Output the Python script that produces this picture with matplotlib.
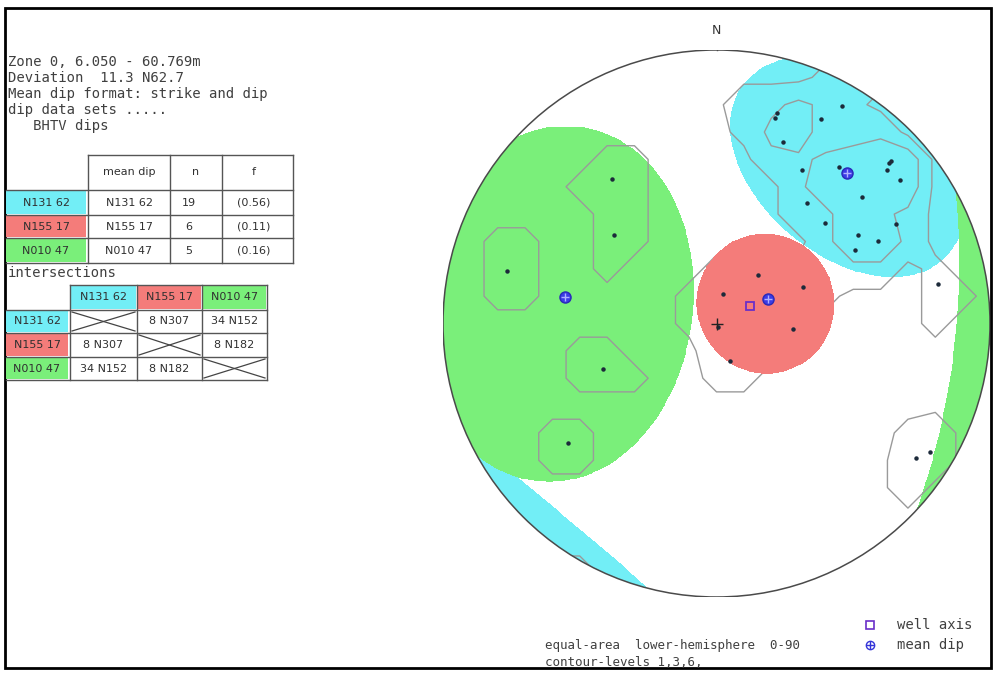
import numpy as np
from matplotlib import pyplot as plt
from matplotlib.patches import Circle, Rectangle

# === 0. DATA ===

header_lines = ["Zone 0, 6.050 - 60.769m",
                "Deviation  11.3 N62.7",
                "Mean dip format: strike and dip",
                "dip data sets .....",
                "   BHTV dips"]

set_names = ["N131 62", "N155 17", "N010 47"]
set_colors = ["#72eef6", "#f47c7a", "#7aef7a"]
set_n = [19, 6, 5]
set_f = [0.56, 0.11, 0.16]

# intersections (plunge, trend) between the mean planes
inter_plunge = [[None, 8, 34], [8, None, 8], [34, 8, None]]
inter_trend = [[None, 307, 152], [307, None, 182], [152, 182, None]]

# individual dips (strike, dip - right hand rule)
cyan_strike = [120, 106, 106, 117, 110, 119, 128, 137, 137, 138, 142, 139, 127, 137, 148, 153, 151, 152, 131]
cyan_dip = [81, 69, 67, 73, 60, 54, 62, 76, 75, 73, 74, 60, 46, 45, 51, 56, 64, 48, 61]
red_strike = [131, 102, 157, 184, 250, 252]
red_dip = [19, 9, 28, 23, 12, 1]
green_strike = [54, 41, 14, 338, 321]
green_dip = [55, 41, 68, 37, 59]
other_strike = [170, 214, 211]
other_dip = [71, 77, 80]

# mean dips of the three sets
mean_strike = [131, 155, 10]
mean_dip = [62, 17, 47]

# well axis (deviation, azimuth)
well_dev = 11.3
well_azi = 62.7

# shaded set zones: cone axis (trend, plunge) and half angle
zone_trend = [40, 68, 277]
zone_plunge = [22, 74, 34.5]
zone_angle = [33, 20.5, 48]

contour_levels = [1, 3, 6]
count_angle = 10.0


# === 1. HELPERS ===

def pole_xy(strike, dip):
    """equal-area lower hemisphere position of the pole to a plane"""
    strike = np.asarray(strike, float)
    dip = np.asarray(dip, float)
    trend = np.radians(strike - 90.0)
    r = np.sqrt(2) * np.sin(np.radians(dip) / 2)
    return r * np.sin(trend), r * np.cos(trend)


def xy_to_vec(x, y):
    r = np.clip(np.hypot(x, y), 0, 1)
    theta = 2 * np.arcsin(r / np.sqrt(2))
    az = np.arctan2(x, y)
    return np.stack([np.sin(theta) * np.sin(az), np.sin(theta) * np.cos(az), np.cos(theta)], axis=-1)


def line_vec(trend, plunge):
    t, p = np.radians(trend), np.radians(plunge)
    return np.array([np.cos(p) * np.sin(t), np.cos(p) * np.cos(t), np.sin(p)])


# === 2. FIGURE ===

fig = plt.figure(figsize=(9.97, 6.75), dpi=100)
page = fig.add_axes([0, 0, 1, 1])
page.set_xlim(0, 997)
page.set_ylim(675, 0)
page.axis('off')

page.add_patch(Rectangle((5, 8), 986, 660, fill=False, ec='black', lw=2))

txt = dict(family='DejaVu Sans Mono', fontsize=10, color='#404040', va='center')
for i, line in enumerate(header_lines):
    page.text(8, 62 + i * 16, line, ha='left', **txt)

# --- table of mean dips ---
cell = dict(family='DejaVu Sans', fontsize=8, color='#303030', va='center', ha='center')
col_x = [88, 170, 222, 293]
row_y = [155, 190, 215, 238, 263]
page.text(129, 172, "mean dip", **cell)
page.text(196, 172, "n", **cell)
page.text(254, 172, "f", **cell)
for i in range(3):
    y0, y1 = row_y[i + 1], row_y[i + 2]
    page.add_patch(Rectangle((6, y0 + 1), 80, y1 - y0 - 2, fc=set_colors[i], ec='none'))
    yc = (y0 + y1) / 2
    page.text(46, yc, set_names[i], **cell)
    page.text(129, yc, set_names[i], **cell)
    page.text(189, yc, str(set_n[i]), **cell)
    page.text(254, yc, "(%.2f)" % set_f[i], **cell)
for x in col_x:
    page.plot([x, x], [row_y[0], row_y[-1]], color='#555555', lw=1)
page.plot([col_x[0], col_x[-1]], [row_y[0], row_y[0]], color='#555555', lw=1)
for y in row_y[1:]:
    page.plot([6, col_x[-1]], [y, y], color='#555555', lw=1)

# --- intersections table ---
page.text(8, 273, "intersections", ha='left', **txt)
icol = [70, 137, 202, 267]
irow = [285, 310, 333, 357, 380]
for j in range(3):
    page.add_patch(Rectangle((icol[j] + 1, irow[0] + 1), icol[j + 1] - icol[j] - 2, irow[1] - irow[0] - 2,
                             fc=set_colors[j], ec='none'))
    page.text((icol[j] + icol[j + 1]) / 2, (irow[0] + irow[1]) / 2, set_names[j], **cell)
for i in range(3):
    y0, y1 = irow[i + 1], irow[i + 2]
    page.add_patch(Rectangle((6, y0 + 1), 62, y1 - y0 - 2, fc=set_colors[i], ec='none'))
    page.text(37, (y0 + y1) / 2, set_names[i], **cell)
    for j in range(3):
        x0, x1 = icol[j], icol[j + 1]
        if inter_plunge[i][j] is None:
            page.plot([x0 + 2, x1 - 2], [y0 + 2, y1 - 2], color='#444444', lw=0.9)
            page.plot([x0 + 2, x1 - 2], [y1 - 2, y0 + 2], color='#444444', lw=0.9)
        else:
            page.text((x0 + x1) / 2, (y0 + y1) / 2,
                      "%d N%03d" % (inter_plunge[i][j], inter_trend[i][j]), **cell)
for x in icol:
    page.plot([x, x], [irow[0], irow[-1]], color='#555555', lw=1)
page.plot([icol[0], icol[-1]], [irow[0], irow[0]], color='#555555', lw=1)
for y in irow[1:]:
    page.plot([6, icol[-1]], [y, y], color='#555555', lw=1)

# --- bottom captions and legend ---
small = dict(txt, fontsize=9)
page.text(545, 645, "equal-area  lower-hemisphere  0-90", ha='left', **small)
page.text(545, 662, "contour-levels 1,3,6,", ha='left', **small)
page.plot(870, 625, 's', ms=6, mfc='none', mec='#6a2fc8', mew=1.2)
page.text(897, 625, "well axis", ha='left', **txt)
page.plot(870, 645, 'o', ms=6, mfc='none', mec='#3434d8', mew=1)
page.plot(870, 645, '+', ms=6, color='#3434d8', mew=1)
page.text(897, 645, "mean dip", ha='left', **txt)

# === 3. STEREONET ===

net = fig.add_axes([443 / 997, (675 - 597) / 675, 547 / 997, 547 / 675])
net.set_xlim(-1, 1)
net.set_ylim(-1, 1)
net.axis('off')
rim = Circle((0, 0), 1, transform=net.transData)

gx = np.linspace(-1, 1, 601)
GX, GY = np.meshgrid(gx, gx)
inside = GX ** 2 + GY ** 2 <= 1
V = xy_to_vec(GX, GY)


def zone_fill(k, z):
    # axial data: a point belongs to the zone if it or its antipode lies in the cone
    c = line_vec(zone_trend[k], zone_plunge[k])
    m = (np.abs(V @ c) >= np.cos(np.radians(zone_angle[k]))) & inside
    cs = net.contourf(GX, GY, m.astype(float), levels=[0.5, 1.5], colors=[set_colors[k]], zorder=z)
    cs.set_clip_path(rim)


zone_fill(0, 1)
zone_fill(2, 2)

# density contours from point counts
all_strike = cyan_strike + red_strike + green_strike + other_strike
all_dip = cyan_dip + red_dip + green_dip + other_dip
px, py = pole_xy(all_strike, all_dip)
P = xy_to_vec(px, py)
cx = np.linspace(-1, 1, 21)
CX, CY = np.meshgrid(cx, cx)
CV = xy_to_vec(CX, CY)
counts = (np.abs(CV @ P.T) >= np.cos(np.radians(count_angle))).sum(axis=-1).astype(float)
lines = net.contour(CX, CY, counts, levels=[lv - 0.5 for lv in contour_levels],
                    colors='#9a9a9a', linewidths=1, zorder=3)
lines.set_clip_path(rim)

zone_fill(1, 4)

net.add_patch(Circle((0, 0), 1, fill=False, ec='#4a4a4a', lw=1.1, zorder=6))
net.plot([0, 0], [1, 1.04], color='#4a4a4a', lw=1, zorder=6)
net.text(0, 1.07, "N", ha='center', va='center', family='DejaVu Sans', fontsize=9, color='#333333')

net.plot(px, py, 'o', ms=2.2, color='#1c2a3a', zorder=7)
net.plot([0], [0], '+', ms=9, color='#222222', mew=1, zorder=7)

mx, my = pole_xy(mean_strike, mean_dip)
net.plot(mx, my, 'o', ms=8, mfc='#3b3be6', mec='#2a2ab8', zorder=8)
net.plot(mx, my, '+', ms=6, color='#b0b0ff', mew=1, zorder=9)

wr = np.sqrt(2) * np.sin(np.radians(well_dev) / 2)
net.plot([wr * np.sin(np.radians(well_azi))], [wr * np.cos(np.radians(well_azi))], 's',
         ms=6, mfc='none', mec='#6a2fc8', mew=1.3, zorder=8)

fig.savefig("out.png", dpi=100)
